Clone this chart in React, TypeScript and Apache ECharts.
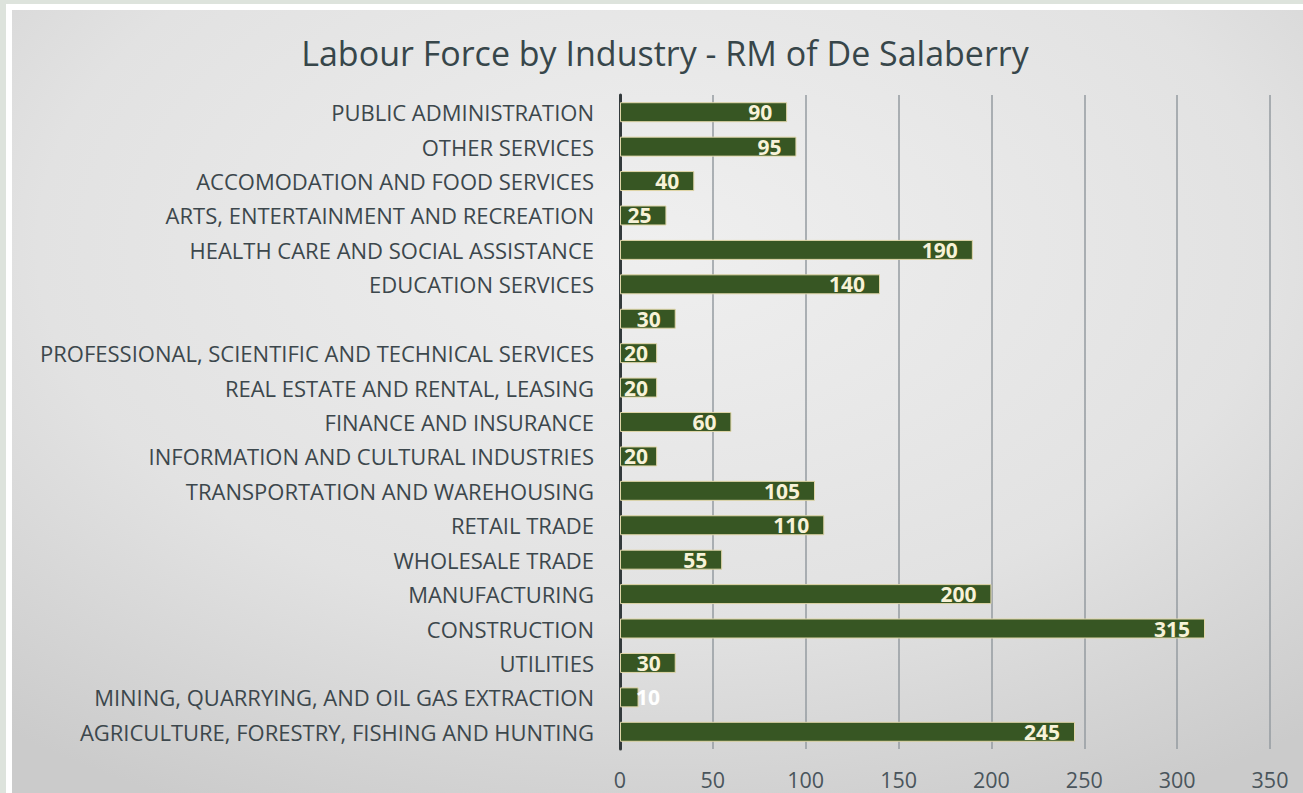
import React, { useEffect, useRef } from "react";
import * as echarts from "echarts";

const title = "Labour Force by Industry - RM of De Salaberry";
const categories = [
  "PUBLIC ADMINISTRATION",
  "OTHER SERVICES",
  "ACCOMODATION AND FOOD SERVICES",
  "ARTS, ENTERTAINMENT AND RECREATION",
  "HEALTH CARE AND SOCIAL ASSISTANCE",
  "EDUCATION SERVICES",
  "",
  "PROFESSIONAL, SCIENTIFIC AND TECHNICAL SERVICES",
  "REAL ESTATE AND RENTAL, LEASING",
  "FINANCE AND INSURANCE",
  "INFORMATION AND CULTURAL INDUSTRIES",
  "TRANSPORTATION AND WAREHOUSING",
  "RETAIL TRADE",
  "WHOLESALE TRADE",
  "MANUFACTURING",
  "CONSTRUCTION",
  "UTILITIES",
  "MINING, QUARRYING, AND OIL GAS EXTRACTION",
  "AGRICULTURE, FORESTRY, FISHING AND HUNTING",
];
const values = [90, 95, 40, 25, 190, 140, 30, 20, 20, 60, 20, 105, 110, 55, 200, 315, 30, 10, 245];

export default function App() {
  const ref = useRef<HTMLDivElement>(null);
  useEffect(() => {
    if (!ref.current) return;
    const chart = echarts.init(ref.current, null, { renderer: "svg" });
    const font = "'Open Sans', Lato, sans-serif";
    const data = values.map((v) =>
      v < 15
        ? { value: v, label: { position: "insideLeft", distance: 16, color: "#ffffff" } }
        : v <= 20
        ? { value: v, label: { position: "insideLeft", distance: 4 } }
        : v
    );
    chart.setOption({
      animation: false,
      graphic: [
        { type: "rect", z: -30, silent: true, shape: { x: 0, y: 0, width: 1303, height: 793 }, style: { fill: "#dde3dc" } },
        { type: "rect", z: -20, silent: true, shape: { x: 6, y: 4, width: 1297, height: 789 }, style: { fill: "#ffffff" } },
        {
          type: "rect",
          z: -10,
          silent: true,
          shape: { x: 12, y: 10, width: 1291, height: 783 },
          style: {
            fill: new echarts.graphic.RadialGradient(0.5, 0.3, 0.8, [
              { offset: 0, color: "#efefef" },
              { offset: 0.6, color: "#e2e2e2" },
              { offset: 1, color: "#cbcbcb" },
            ]),
          },
        },
      ],
      title: {
        text: title,
        left: 660,
        top: 31,
        textAlign: "center",
        textStyle: { fontFamily: font, fontSize: 34, fontWeight: "normal", color: "#37464a" },
      },
      grid: { left: 620, right: 33, top: 95, bottom: 44, containLabel: false },
      xAxis: {
        type: "value",
        min: 0,
        max: 350,
        interval: 50,
        axisLine: { show: false },
        axisTick: { show: false },
        axisLabel: { fontFamily: font, fontSize: 21.5, color: "#4a555c", margin: 19 },
        splitLine: { show: true, lineStyle: { color: "#959ba0", width: 1.5 } },
      },
      yAxis: {
        type: "category",
        inverse: true,
        data: categories,
        axisLine: { show: true, lineStyle: { color: "#333a3c", width: 3 } },
        axisTick: { show: false },
        axisLabel: { fontFamily: font, fontSize: 22, color: "#3c474c", margin: 26 },
      },
      series: [
        {
          type: "bar",
          data,
          barCategoryGap: "42%",
          itemStyle: { color: "#375623", borderColor: "#e0d6a8", borderWidth: 1 },
          label: {
            show: true,
            position: "insideRight",
            distance: 15,
            fontFamily: font,
            fontSize: 21,
            fontWeight: "bold",
            color: "#f7f2d8",
          },
        },
      ],
    });
    return () => chart.dispose();
  }, []);
  return (
    <div
      ref={ref}
      style={{ width: 1303, height: 793, position: "absolute", left: 0, top: 0 }}
    />
  );
}
